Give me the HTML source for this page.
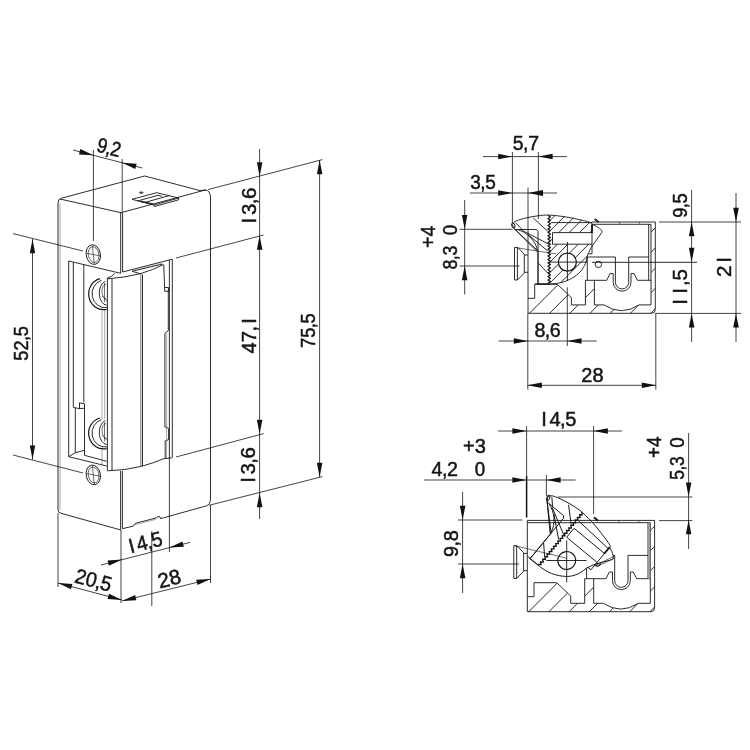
<!DOCTYPE html>
<html><head><meta charset="utf-8"><title>drawing</title>
<style>html,body{margin:0;padding:0;background:#fff}svg{display:block;will-change:transform}</style></head>
<body>
<svg width="750" height="750" viewBox="0 0 750 750">
<style>
.o{fill:none;stroke:#151515;stroke-width:0.9}
.f{fill:none;stroke:#555;stroke-width:0.5}
.o2{fill:none;stroke:#222;stroke-width:0.65}
.d{fill:none;stroke:#151515;stroke-width:0.8}
.a{fill:#111;stroke:none}
text{font-family:"Liberation Sans",sans-serif;fill:#151515;stroke:#151515;stroke-width:0.5}
</style>
<defs><clipPath id="kclip"><path clip-rule="evenodd" d="M549.3,215.1 Q572,215.5 592,223.3 L592,246.3 C591.3,247.7 588.8,252.0 587.7,254.8 C586.6,257.6 586.8,260.5 585.5,263.4 C584.2,266.2 582.5,269.4 580.2,271.9 C577.9,274.4 574.9,276.5 571.7,278.3 C568.5,280.1 564.6,281.7 561.0,282.6 C557.4,283.6 551.7,283.8 549.8,284.0 L549.3,284 Z M552.5,232.6 L592,232.6 L592,244.2 L552.5,244.2 Z M558.4,262.1 a9,9 0 1 0 18,0 a9,9 0 1 0 -18,0 Z"/></clipPath><clipPath id="bclip"><path d="M528,298.3 L534.7,298.3 L534.7,284.3 L557.4,284.3 L571.4,297.6 L571.4,304.9 L585.4,304.9 L585.4,280.3 L594.4,280.3 L594.4,304.9 L604,304.9 Q621.5,316.5 639,304.9 L651,304.9 L651,224.3 L655.3,224.3 L655.3,313.3 L528,313.3 Z"/></clipPath></defs>
<rect width="750" height="750" fill="#fff"/>
<path class="o" d="M58,510 L58,203 Q58,199 61.5,198.2 L144.7,176 L200,190.6 L205.3,190 Q210,190.5 210.5,196.7 L210.5,499 Q210.3,504.5 206.5,505.8" />
<line class="f" x1="60.0" y1="203.0" x2="60.0" y2="510.0"/>
<line class="o" x1="60.0" y1="199.0" x2="121.0" y2="212.7"/>
<line class="o" x1="121.0" y1="212.7" x2="206.0" y2="189.8"/>
<line class="o" x1="120.7" y1="212.7" x2="120.7" y2="273.3"/>
<line class="o" x1="122.6" y1="213.0" x2="122.6" y2="272.0"/>
<line class="o" x1="122.6" y1="272.0" x2="172.3" y2="259.2"/>
<path class="o" d="M132,271.3 L162.7,264" />
<line class="f" x1="134.5" y1="270.7" x2="135.7" y2="268.7"/>
<line class="f" x1="137.0" y1="270.1" x2="138.2" y2="268.1"/>
<line class="f" x1="139.5" y1="269.5" x2="140.7" y2="267.5"/>
<line class="f" x1="142.0" y1="268.9" x2="143.2" y2="266.9"/>
<line class="f" x1="144.5" y1="268.3" x2="145.7" y2="266.3"/>
<line class="f" x1="147.0" y1="267.7" x2="148.2" y2="265.7"/>
<line class="f" x1="149.5" y1="267.1" x2="150.7" y2="265.1"/>
<line class="f" x1="152.0" y1="266.5" x2="153.2" y2="264.5"/>
<line class="f" x1="154.5" y1="265.9" x2="155.7" y2="263.9"/>
<line class="f" x1="157.0" y1="265.4" x2="158.2" y2="263.4"/>
<line class="f" x1="159.5" y1="264.8" x2="160.7" y2="262.8"/>
<line class="o" x1="169.4" y1="260.0" x2="169.4" y2="458.5"/>
<line class="o" x1="172.3" y1="259.2" x2="172.3" y2="457.8"/>
<line class="o" x1="120.6" y1="471.0" x2="120.6" y2="529.5"/>
<line class="o" x1="122.4" y1="471.0" x2="122.4" y2="528.7"/>
<path class="o" d="M122.4,528.7 L133.6,526 L135.4,523.3 L156,518 L158,516.6 L160,516.8 L160.5,518.6 L164.4,517.6 L206.5,505.8" />
<path class="f" d="M135.4,524.6 L156,519.3" />
<path class="o" d="M58,510 Q58,512.5 61,513.3 L121,530" />
<path class="o" d="M132,199.3 L156.7,192.7 L178.7,198 L154,205 Z" />
<path class="o" d="M137.3,201 L158,195.3 L162,196.3" />
<path class="o" d="M145.3,202.3 L169.3,195.6" />
<line x1="140.5" y1="201.2" x2="153.3" y2="204.2" stroke="#222" stroke-width="1.6"/>
<path class="o" d="M154,205 L154.4,206.5 L178.7,199.8 L178.7,198" />
<ellipse cx="141.3" cy="192.7" rx="2.2" ry="1.1" fill="#444"/>
<ellipse class="o" cx="93.3" cy="254.6" rx="7.1" ry="9.9" transform="rotate(-11 93.3 254.6)"/>
<ellipse class="o2" cx="93.6" cy="254.6" rx="5.3" ry="8" transform="rotate(-11 93.6 254.6)"/>
<line class="o2" x1="92.4" y1="245.6" x2="94.2" y2="263.6"/>
<line class="o2" x1="86.8" y1="253.3" x2="100.0" y2="255.9"/>
<ellipse class="o" cx="93.3" cy="474.9" rx="7.1" ry="9.9" transform="rotate(-11 93.3 474.9)"/>
<ellipse class="o2" cx="93.6" cy="474.9" rx="5.3" ry="8" transform="rotate(-11 93.6 474.9)"/>
<line class="o2" x1="92.4" y1="465.9" x2="94.2" y2="483.9"/>
<line class="o2" x1="86.8" y1="473.6" x2="100.0" y2="476.2"/>
<path class="o" d="M120.7,273.3 L68.7,261 L68.7,456.7 L106.7,466" />
<line class="o" x1="73.3" y1="262.5" x2="73.3" y2="407.3"/>
<line class="o" x1="83.8" y1="265.0" x2="83.8" y2="402.5"/>
<path class="o" d="M73.3,407.3 L79.5,408.7 L79.5,402.8 L84.5,403.8 L84.5,455.3 L106.7,461.3" />
<path class="o" d="M79.5,408.7 L84.5,408.2" />
<path class="o" d="M75.3,408 L75.3,452.7 L84.5,450.3" />
<path class="o" d="M68.7,456.7 L75.3,452.7" />
<line class="f" x1="102.0" y1="310.0" x2="102.0" y2="419.0"/>
<line class="f" x1="104.7" y1="310.0" x2="104.7" y2="419.0"/>
<line class="f" x1="102.0" y1="448.0" x2="102.0" y2="464.8"/>
<line class="o" x1="107.4" y1="278.0" x2="107.4" y2="470.7"/>
<line class="o" x1="112.0" y1="279.0" x2="112.0" y2="470.5"/>
<path class="o" d="M107.4,278 Q112,277 114.7,273.3" />
<path class="o" d="M107.6,278.8 Q124,277.8 140.5,273.6 Q153,270 163.3,264.7" />
<path class="o" d="M132,271.3 L141.3,274" />
<line class="o2" x1="140.8" y1="274.5" x2="140.8" y2="466.3"/>
<line class="o" x1="142.5" y1="274.5" x2="142.5" y2="466.0"/>
<path class="o" d="M163.8,264.7 L164.7,291.3 L168.5,291.3 L168.5,287.5 L164.7,287.5" />
<path class="o" d="M168.3,288.7 L168.3,330.7 L164.9,333.3 L164.9,427 L168.6,428.3 L168.6,439.5 L165.2,441 L165.2,459" />
<line class="f" x1="166.6" y1="334.0" x2="166.6" y2="458.0"/>
<path class="o" d="M107.4,470.8 Q125,470.5 142,466.2 Q155,462.5 163.4,458.8 L171.8,457.8" />
<path class="o" d="M100,278.7 A15,15.7 0 0 0 106.7,309.3" style="stroke-width:1.2"/>
<path class="o" d="M101.5,280.3 A13.2,14 0 0 0 107,307.6" />
<path class="o" d="M105.3,281.3 A8,12.2 0 0 0 106.7,305.3" />
<path class="o2" d="M106,284 A5,7.6 0 0 0 106.5,299" />
<path class="o2" d="M104.5,283 L104.5,302 M102.5,296 L107,301" />
<path class="o" d="M100,418.0 A15,15.7 0 0 0 106.7,448.6" style="stroke-width:1.2"/>
<path class="o" d="M101.5,419.6 A13.2,14 0 0 0 107,446.90000000000003" />
<path class="o" d="M105.3,420.6 A8,12.2 0 0 0 106.7,444.6" />
<path class="o2" d="M106,423.3 A5,7.6 0 0 0 106.5,438.3" />
<path class="o2" d="M104.5,422.3 L104.5,441.3 M102.5,435.3 L107,440.3" />
<line class="d" x1="73.0" y1="150.0" x2="142.4" y2="168.0"/>
<line class="d" x1="93.4" y1="150.0" x2="93.4" y2="241.0"/>
<line class="d" x1="122.2" y1="159.0" x2="122.2" y2="212.0"/>
<polygon class="a" points="93.4,155.3 79.0,154.4 80.3,149.1"/>
<polygon class="a" points="122.2,162.8 136.6,163.7 135.3,169.0"/>
<g transform="translate(109.0,147.7) rotate(14.5) scale(0.860,1)"><text x="-13.89 -2.95 2.45" y="6.78" font-size="20.8">9,2</text></g>
<line class="d" x1="208.0" y1="189.6" x2="322.4" y2="159.6"/>
<line class="d" x1="176.0" y1="258.0" x2="263.6" y2="235.0"/>
<line class="d" x1="176.0" y1="457.0" x2="263.6" y2="433.6"/>
<line class="d" x1="209.0" y1="505.3" x2="322.4" y2="476.6"/>
<line class="d" x1="259.6" y1="149.0" x2="259.6" y2="519.0"/>
<polygon class="a" points="259.6,176.4 256.9,162.2 262.4,162.2"/>
<polygon class="a" points="259.6,235.6 262.4,249.8 256.9,249.8"/>
<polygon class="a" points="259.6,434.0 256.9,419.8 262.4,419.8"/>
<polygon class="a" points="259.6,493.0 262.4,507.2 256.9,507.2"/>
<line class="d" x1="319.6" y1="160.0" x2="319.6" y2="477.0"/>
<polygon class="a" points="319.6,160.0 322.4,174.2 316.9,174.2"/>
<polygon class="a" points="319.6,477.0 316.9,462.8 322.4,462.8"/>
<g transform="translate(249.0,205.0) rotate(-90) scale(0.985,1)"><text x="-18.72 -10.21 0.73 6.14" y="6.78" font-size="20.8">I3,6</text></g>
<g transform="translate(249.0,336.5) rotate(-90) scale(0.969,1)"><text x="-17.45 -5.89 5.05 13.19" y="6.78" font-size="20.8">47,I</text></g>
<g transform="translate(308.5,330.5) rotate(-90) scale(0.878,1)"><text x="-19.83 -8.27 2.67 8.08" y="6.78" font-size="20.8">75,5</text></g>
<g transform="translate(248.5,464.5) rotate(-90) scale(0.979,1)"><text x="-18.72 -10.21 0.73 6.14" y="6.78" font-size="20.8">I3,6</text></g>
<line class="d" x1="13.0" y1="233.6" x2="83.0" y2="251.0"/>
<line class="d" x1="13.0" y1="455.0" x2="83.0" y2="473.0"/>
<line class="d" x1="32.5" y1="239.0" x2="32.5" y2="459.6"/>
<polygon class="a" points="32.5,239.0 35.2,253.2 29.8,253.2"/>
<polygon class="a" points="32.5,459.6 29.8,445.4 35.2,445.4"/>
<g transform="translate(21.0,343.5) rotate(-90) scale(0.873,1)"><text x="-19.73 -8.16 2.78 8.18" y="6.78" font-size="20.8">52,5</text></g>
<line class="d" x1="58.0" y1="513.0" x2="58.0" y2="587.0"/>
<line class="d" x1="121.0" y1="530.0" x2="121.0" y2="603.0"/>
<line class="d" x1="151.8" y1="531.0" x2="151.8" y2="606.0"/>
<line class="d" x1="169.4" y1="457.0" x2="169.4" y2="552.0"/>
<line class="d" x1="210.5" y1="505.0" x2="210.5" y2="583.0"/>
<line class="d" x1="58.0" y1="583.0" x2="122.0" y2="600.0"/>
<polygon class="a" points="58.0,583.0 72.4,584.0 71.0,589.3"/>
<polygon class="a" points="122.0,600.0 107.6,599.0 109.0,593.7"/>
<line class="d" x1="122.0" y1="601.0" x2="210.6" y2="579.0"/>
<polygon class="a" points="122.0,601.0 135.1,594.9 136.4,600.3"/>
<polygon class="a" points="210.6,579.0 197.5,585.1 196.2,579.7"/>
<line class="d" x1="101.0" y1="565.0" x2="190.0" y2="542.4"/>
<polygon class="a" points="122.0,559.6 108.9,565.8 107.6,560.4"/>
<polygon class="a" points="169.4,547.6 182.5,541.4 183.8,546.8"/>
<g transform="translate(93.5,580.5) rotate(15) scale(0.945,1)"><text x="-19.83 -8.27 2.67 8.08" y="6.78" font-size="20.8">20,5</text></g>
<g transform="translate(146.0,542.5) rotate(-14.5) scale(0.935,1)"><text x="-18.72 -10.21 0.73 6.14" y="6.78" font-size="20.8">I4,5</text></g>
<g transform="translate(169.5,579.0) rotate(-14) scale(1.003,1)"><text x="-11.66 -0.09" y="6.78" font-size="20.8">28</text></g>
<line class="d" x1="483.0" y1="156.6" x2="567.0" y2="156.6"/>
<polygon class="a" points="512.4,156.6 498.2,159.3 498.2,153.8"/>
<polygon class="a" points="538.4,156.6 552.6,153.8 552.6,159.3"/>
<line class="d" x1="512.4" y1="152.0" x2="512.4" y2="223.0"/>
<line class="d" x1="538.4" y1="152.0" x2="538.4" y2="219.0"/>
<line class="d" x1="470.0" y1="193.0" x2="557.0" y2="193.0"/>
<polygon class="a" points="512.4,193.0 498.2,195.8 498.2,190.2"/>
<polygon class="a" points="528.0,193.0 543.0,190.1 543.0,195.9"/>
<line class="d" x1="528.0" y1="187.6" x2="528.0" y2="229.0"/>
<g transform="translate(525.8,143.0) rotate(0) scale(0.938,1)"><text x="-13.84 -2.90 2.51" y="6.78" font-size="20.8">5,7</text></g>
<g transform="translate(483.0,182.0) rotate(0) scale(0.915,1)"><text x="-13.95 -3.01 2.40" y="6.78" font-size="20.8">3,5</text></g>
<line class="d" x1="464.7" y1="200.0" x2="464.7" y2="294.4"/>
<polygon class="a" points="464.7,229.3 461.9,215.1 467.4,215.1"/>
<polygon class="a" points="464.7,266.0 467.4,280.2 461.9,280.2"/>
<line class="d" x1="459.6" y1="229.3" x2="512.4" y2="229.3"/>
<line class="d" x1="459.6" y1="266.0" x2="519.6" y2="266.0"/>
<g transform="translate(428.0,236.7) rotate(-90) scale(0.935,1)"><text x="-12.05 0.09" y="6.78" font-size="20.8">+4</text></g>
<g transform="translate(450.2,230.0) rotate(-90) scale(0.900,1)"><text x="-5.82" y="6.78" font-size="20.8">0</text></g>
<g transform="translate(450.2,257.6) rotate(-90) scale(0.857,1)"><text x="-14.00 -3.06 2.35" y="6.78" font-size="20.8">8,3</text></g>
<line class="d" x1="498.7" y1="341.0" x2="596.7" y2="341.0"/>
<polygon class="a" points="528.0,341.0 513.8,343.8 513.8,338.2"/>
<polygon class="a" points="567.3,341.0 581.5,338.2 581.5,343.8"/>
<line class="d" x1="567.3" y1="287.3" x2="567.3" y2="346.0"/>
<line class="d" x1="527.8" y1="313.3" x2="527.8" y2="389.6"/>
<line class="d" x1="655.8" y1="313.3" x2="655.8" y2="389.6"/>
<g transform="translate(547.6,330.5) rotate(0) scale(0.945,1)"><text x="-14.00 -3.06 2.35" y="6.78" font-size="20.8">8,6</text></g>
<line class="d" x1="527.6" y1="385.3" x2="656.0" y2="385.3"/>
<polygon class="a" points="527.6,385.3 541.8,382.6 541.8,388.1"/>
<polygon class="a" points="656.0,385.3 641.8,388.1 641.8,382.6"/>
<g transform="translate(592.5,375.5) rotate(0) scale(0.961,1)"><text x="-11.66 -0.09" y="6.78" font-size="20.8">28</text></g>
<line class="d" x1="659.0" y1="222.0" x2="741.0" y2="222.0"/>
<line class="o" x1="592.0" y1="262.3" x2="697.0" y2="262.3"/>
<line class="d" x1="655.3" y1="313.4" x2="741.0" y2="313.4"/>
<line class="d" x1="691.6" y1="190.0" x2="691.6" y2="342.0"/>
<polygon class="a" points="691.6,222.0 694.4,236.2 688.9,236.2"/>
<polygon class="a" points="691.6,262.0 688.9,247.8 694.4,247.8"/>
<polygon class="a" points="691.6,313.4 694.4,327.6 688.9,327.6"/>
<line class="d" x1="736.0" y1="193.0" x2="736.0" y2="342.0"/>
<polygon class="a" points="736.0,222.0 733.2,207.8 738.8,207.8"/>
<polygon class="a" points="736.0,313.4 738.8,327.6 733.2,327.6"/>
<g transform="translate(680.5,205.5) rotate(-90) scale(0.880,1)"><text x="-14.00 -3.06 2.35" y="6.78" font-size="20.8">9,5</text></g>
<g transform="translate(680.5,286.5) rotate(-90) scale(0.989,1)"><text x="-18.55 -7.32 0.56 5.97" y="6.78" font-size="20.8">II,5</text></g>
<g transform="translate(724.7,267.5) rotate(-90) scale(0.994,1)"><text x="-9.59 4.70" y="6.78" font-size="20.8">2I</text></g>
<line class="d" x1="498.0" y1="431.0" x2="622.0" y2="431.0"/>
<polygon class="a" points="526.6,431.0 512.4,433.8 512.4,428.2"/>
<polygon class="a" points="593.6,431.0 607.8,428.2 607.8,433.8"/>
<line class="d" x1="526.6" y1="426.0" x2="526.6" y2="476.0"/>
<line x1="526.6" y1="476" x2="526.6" y2="517.5" stroke="#111" stroke-width="1.5"/>
<line class="d" x1="593.6" y1="426.0" x2="593.6" y2="514.0"/>
<g transform="translate(559.3,419.3) rotate(0) scale(0.967,1)"><text x="-18.72 -10.21 0.73 6.14" y="6.78" font-size="20.8">I4,5</text></g>
<line class="d" x1="424.0" y1="480.0" x2="575.6" y2="480.0"/>
<polygon class="a" points="526.6,480.0 512.4,482.8 512.4,477.2"/>
<polygon class="a" points="546.4,480.0 560.6,477.2 560.6,482.8"/>
<line class="d" x1="546.4" y1="475.0" x2="546.4" y2="496.0"/>
<g transform="translate(474.5,446.5) rotate(0) scale(0.962,1)"><text x="-11.95 0.20" y="6.78" font-size="20.8">+3</text></g>
<g transform="translate(444.5,469.0) rotate(0) scale(0.946,1)"><text x="-13.63 -2.69 2.71" y="6.78" font-size="20.8">4,2</text></g>
<g transform="translate(480.0,469.0) rotate(0) scale(0.900,1)"><text x="-5.82" y="6.78" font-size="20.8">0</text></g>
<line class="d" x1="558.0" y1="497.0" x2="692.4" y2="497.0"/>
<line class="d" x1="462.6" y1="492.0" x2="462.6" y2="593.0"/>
<polygon class="a" points="462.6,520.0 459.9,505.8 465.4,505.8"/>
<polygon class="a" points="462.6,564.0 465.4,578.2 459.9,578.2"/>
<line class="d" x1="458.0" y1="520.0" x2="522.4" y2="520.0"/>
<line class="d" x1="458.0" y1="564.0" x2="519.0" y2="564.0"/>
<g transform="translate(451.5,543.5) rotate(-90) scale(0.957,1)"><text x="-14.00 -3.06 2.35" y="6.78" font-size="20.8">9,8</text></g>
<line class="d" x1="688.6" y1="433.0" x2="688.6" y2="549.0"/>
<polygon class="a" points="688.6,496.8 685.9,482.6 691.4,482.6"/>
<polygon class="a" points="688.6,520.0 691.4,534.2 685.9,534.2"/>
<line class="d" x1="659.0" y1="520.6" x2="692.4" y2="520.6"/>
<g transform="translate(654.5,447.0) rotate(-90) scale(0.908,1)"><text x="-12.05 0.09" y="6.78" font-size="20.8">+4</text></g>
<g transform="translate(677.0,442.5) rotate(-90) scale(0.900,1)"><text x="-5.82" y="6.78" font-size="20.8">0</text></g>
<g transform="translate(677.0,468.0) rotate(-90) scale(0.839,1)"><text x="-13.95 -3.01 2.40" y="6.78" font-size="20.8">5,3</text></g>
<g id="topv">
<path class="o" d="M528,229.5 L528,313.3 L651.5,313.3 Q655.3,313.3 655.3,309.5 L655.3,222 L592,222"/>
<path class="o" d="M592,224.3 L651,224.3 L651,304.9"/>
<path class="o" d="M648.7,224.3 L648.7,280"/>
<path class="o2" d="M619,222 L620,224.3 M639,222 L640,224.3"/>
<line x1="594.7" y1="219" x2="598.7" y2="222.3" stroke="#222" stroke-width="1.8"/>
<path class="o" d="M587.3,257 L615.4,257 L615.4,282.3 A6.65,6.65 0 0 0 628.7,282.3 L628.7,257 L648.7,257"/>
<path class="o" d="M587.3,257 L587.3,280.3"/>
<path class="o" d="M585.4,280.3 L606.7,280.3 L610,273.6 L613.2,273.6 L613.2,282.3 A8.9,8.9 0 0 0 631,282.3 L631,273.6 L634,273.6 L637.4,280.3 L651,280.3"/>
<path class="o" d="M585.4,280.3 L585.4,304.9 M594.4,280.3 L594.4,304.9"/>
<path class="o" d="M594.4,304.9 L604,304.9 Q621.5,316.5 639,304.9 L651,304.9"/>
<circle class="o" cx="598.4" cy="264.4" r="3.2"/>
<path class="o" d="M528,298.3 L534.7,298.3 L534.7,284.3 L557.4,284.3 L571.4,297.6 L571.4,304.9 L585.4,304.9"/>
<path class="o" clip-path="url(#bclip)" d="M522.7,320 L622.7,220 M542.9,320 L642.9,220 M563.1,320 L663.1,220 M583.3,320 L683.3,220 M603.5,320 L703.5,220 M623.7,320 L723.7,220 M643.9,320 L743.9,220"/>
<path class="o" d="M514.5,247.4 L514.5,280 L517.4,280 L524.3,273 L524.3,254.3 L517.8,247.4 Z"/>
<path class="o" d="M517.4,247.4 L517.4,280"/>
<path class="o" d="M524.3,255 L528,255 M524.3,272.3 L528,272.3"/>
<path class="o" d="M512.2,224.6 C512.7,224.1 513.7,222.3 515.0,221.5 C516.3,220.7 517.8,220.3 520.0,219.6 C522.2,218.9 525.0,218.1 528.0,217.5 C531.0,216.9 534.5,216.2 538.0,215.8 C541.5,215.4 544.6,214.9 549.3,215.1 C554.0,215.3 561.2,216.2 566.3,217.0 C571.4,217.8 576.4,219.0 580.0,219.8 C583.6,220.6 585.7,221.1 587.7,221.7 C589.7,222.3 591.3,223.0 592.0,223.3 L592,224.4 C598.4,227 603,230 601.8,232.5 L592,246.3 C591.3,247.7 588.8,252.0 587.7,254.8 C586.6,257.6 586.8,260.5 585.5,263.4 C584.2,266.2 582.5,269.4 580.2,271.9 C577.9,274.4 574.9,276.5 571.7,278.3 C568.5,280.1 564.6,281.7 561.0,282.6 C557.4,283.6 551.7,283.8 549.8,284.0 L538,284.2 L538,251 L514.2,228.6 Z" />
<polyline points="548.0,215.3 550.4,217.0 548.0,218.7 550.4,220.4 548.0,222.1 550.4,223.8 548.0,225.5 550.4,227.2 548.0,228.9 550.4,230.6 548.0,232.3 550.4,234.0 548.0,235.7 550.4,237.4 548.0,239.1 550.4,240.8 548.0,242.5 550.4,244.2 548.0,245.9 550.4,247.6 548.0,249.3 550.4,251.0 548.0,252.7 550.4,254.4 548.0,256.1 550.4,257.8 548.0,259.5 550.4,261.2 548.0,262.9 550.4,264.6 548.0,266.3 550.4,268.0 548.0,269.7 550.4,271.4 548.0,273.1 550.4,274.8 548.0,276.5 550.4,278.2 548.0,279.9 550.4,281.6 548.0,283.3" fill="none" stroke="#111" stroke-width="1.25" stroke-linejoin="round"/>
<path class="o" d="M592,232.6 L552.5,232.6 L552.5,244.2 L592,244.2" />
<path class="o" d="M592,224.4 L592,253.8 L588.2,253.8" />
<line x1="592" y1="224.4" x2="592" y2="233" stroke="#111" stroke-width="1.7"/>
<circle class="o" cx="567.4" cy="262.1" r="9" style="stroke-width:1.2"/>
<ellipse class="o" cx="513.3" cy="225.6" rx="1.5" ry="2.7" transform="rotate(-18 513.3 225.6)"/>
<path class="o" d="M515.7,222.8 L522,229.5 M514.7,229.5 L536.5,229.5 L538,231.5 L538,284.2" />
<path class="o" d="M514.2,228.6 L537.2,251.6" />
<path class="o" d="M517.8,229.7 C526,232 536,240 537.5,251" />
<path class="o" d="M522,230.3 L548.8,244.2" />
<path class="o" d="M528,234.5 L547.7,251" />
<path class="o" d="M533.3,218 L547.7,231.3" />
<path class="o" d="M538,262.8 L547.7,273" />
<path class="o" d="M535,283.8 L549.3,283.8" />
<path class="o" d="M551,222.6 L592,222.6" />
<path class="o" clip-path="url(#kclip)" d="M470.5,300 L570.5,200 M480.9,300 L580.9,200 M491.3,300 L591.3,200 M501.7,300 L601.7,200 M512.1,300 L612.1,200 M522.5,300 L622.5,200 M532.9,300 L632.9,200 M543.3,300 L643.3,200 M553.7,300 L653.7,200"/>
<path class="o" d="M567.4,242 L567.4,281 M550,262.1 L587.3,262.1"/>
<path class="o2" d="M517.8,247.9 L537,251 L556,253.8"/>
</g>
<g transform="translate(-0.7,298.4)">
<path class="o" d="M528,229.5 L528,313.3 L651.5,313.3 Q655.3,313.3 655.3,309.5 L655.3,222 L592,222"/>
<path class="o" d="M592,224.3 L651,224.3 L651,304.9"/>
<path class="o" d="M648.7,224.3 L648.7,280"/>
<path class="o2" d="M619,222 L620,224.3 M639,222 L640,224.3"/>
<line x1="594.7" y1="219" x2="598.7" y2="222.3" stroke="#222" stroke-width="1.8"/>
<path class="o" d="M587.3,257 L615.4,257 L615.4,282.3 A6.65,6.65 0 0 0 628.7,282.3 L628.7,257 L648.7,257"/>
<path class="o" d="M587.3,257 L587.3,280.3"/>
<path class="o" d="M585.4,280.3 L606.7,280.3 L610,273.6 L613.2,273.6 L613.2,282.3 A8.9,8.9 0 0 0 631,282.3 L631,273.6 L634,273.6 L637.4,280.3 L651,280.3"/>
<path class="o" d="M585.4,280.3 L585.4,304.9 M594.4,280.3 L594.4,304.9"/>
<path class="o" d="M594.4,304.9 L604,304.9 Q621.5,316.5 639,304.9 L651,304.9"/>
<circle class="o" cx="598.4" cy="264.4" r="3.2"/>
<path class="o" d="M528,298.3 L534.7,298.3 L534.7,284.3 L557.4,284.3 L571.4,297.6 L571.4,304.9 L585.4,304.9"/>
<path class="o" clip-path="url(#bclip)" d="M522.7,320 L622.7,220 M542.9,320 L642.9,220 M563.1,320 L663.1,220 M583.3,320 L683.3,220 M603.5,320 L703.5,220 M623.7,320 L723.7,220 M643.9,320 L743.9,220"/>
<path class="o" d="M514.5,247.4 L514.5,280 L517.4,280 L524.3,273 L524.3,254.3 L517.8,247.4 Z"/>
<path class="o" d="M517.4,247.4 L517.4,280"/>
<path class="o" d="M524.3,255 L528,255 M524.3,272.3 L528,272.3"/>
<rect x="648.7" y="224.3" width="2.3" height="56" fill="#999"/>
<g transform="rotate(39.6 567.4 262.1)">
<path class="o" d="M512.2,224.6 C512.7,224.1 513.7,222.3 515.0,221.5 C516.3,220.7 517.8,220.3 520.0,219.6 C522.2,218.9 525.0,218.1 528.0,217.5 C531.0,216.9 534.5,216.2 538.0,215.8 C541.5,215.4 544.6,214.9 549.3,215.1 C554.0,215.3 561.2,216.2 566.3,217.0 C571.4,217.8 576.4,219.0 580.0,219.8 C583.6,220.6 585.7,221.1 587.7,221.7 C589.7,222.3 591.3,223.0 592.0,223.3 L592,224.4 C598.4,227 603,230 601.8,232.5 L592,246.3 C591.3,247.7 588.8,252.0 587.7,254.8 C586.6,257.6 586.8,260.5 585.5,263.4 C584.2,266.2 582.5,269.4 580.2,271.9 C577.9,274.4 574.9,276.5 571.7,278.3 C568.5,280.1 564.6,281.7 561.0,282.6 C557.4,283.6 551.7,283.8 549.8,284.0 L538,284.2 L538,251 L514.2,228.6 Z" style="fill:#fff"/>
<polyline points="548.0,215.3 550.4,217.0 548.0,218.7 550.4,220.4 548.0,222.1 550.4,223.8 548.0,225.5 550.4,227.2 548.0,228.9 550.4,230.6 548.0,232.3 550.4,234.0 548.0,235.7 550.4,237.4 548.0,239.1 550.4,240.8 548.0,242.5 550.4,244.2 548.0,245.9 550.4,247.6 548.0,249.3 550.4,251.0 548.0,252.7 550.4,254.4 548.0,256.1 550.4,257.8 548.0,259.5 550.4,261.2 548.0,262.9 550.4,264.6 548.0,266.3 550.4,268.0 548.0,269.7 550.4,271.4 548.0,273.1 550.4,274.8 548.0,276.5 550.4,278.2 548.0,279.9 550.4,281.6 548.0,283.3" fill="none" stroke="#111" stroke-width="1.25" stroke-linejoin="round"/>
<path class="o" d="M592,232.6 L552.5,232.6 L552.5,244.2 L592,244.2" />
<path class="o" d="M592,224.4 L592,253.8 L588.2,253.8" />
<line x1="592" y1="224.4" x2="592" y2="233" stroke="#111" stroke-width="1.7"/>
<circle class="o" cx="567.4" cy="262.1" r="9" style="stroke-width:1.2"/>
<ellipse class="o" cx="513.3" cy="225.6" rx="1.5" ry="2.7" transform="rotate(-18 513.3 225.6)"/>
<path class="o" d="M515.7,222.8 L522,229.5 M514.7,229.5 L536.5,229.5 L538,231.5 L538,284.2" />
<path class="o" d="M514.2,228.6 L537.2,251.6" />
<path class="o" d="M517.8,229.7 C526,232 536,240 537.5,251" />
<path class="o" d="M522,230.3 L548.8,244.2" />
<path class="o" d="M528,234.5 L547.7,251" />
<path class="o" d="M533.3,218 L547.7,231.3" />
<path class="o" d="M538,262.8 L547.7,273" />
<path class="o" d="M535,283.8 L549.3,283.8" />
<path class="o" d="M551,224 L592,226.5" />
</g>
<path class="o" d="M567.4,242 L567.4,284 M547,262.1 L587.3,262.1"/>
<path class="o" d="M528,229.5 L528,222 L592,222 M528,224.3 L592,224.3"/>
<path class="o2" d="M514.7,247.1 L566.7,259.6"/>
<path class="o2" d="M597.7,266.1 L614.9,257.8 M599.2,267.3 L614.9,259.8"/>
<ellipse class="o2" cx="598.4" cy="266.8" rx="2.2" ry="1.2" transform="rotate(-25 598.4 266.8)"/>
<line x1="594.7" y1="219" x2="598.7" y2="222.3" stroke="#222" stroke-width="1.8"/>
</g>
</svg>
</body></html>
